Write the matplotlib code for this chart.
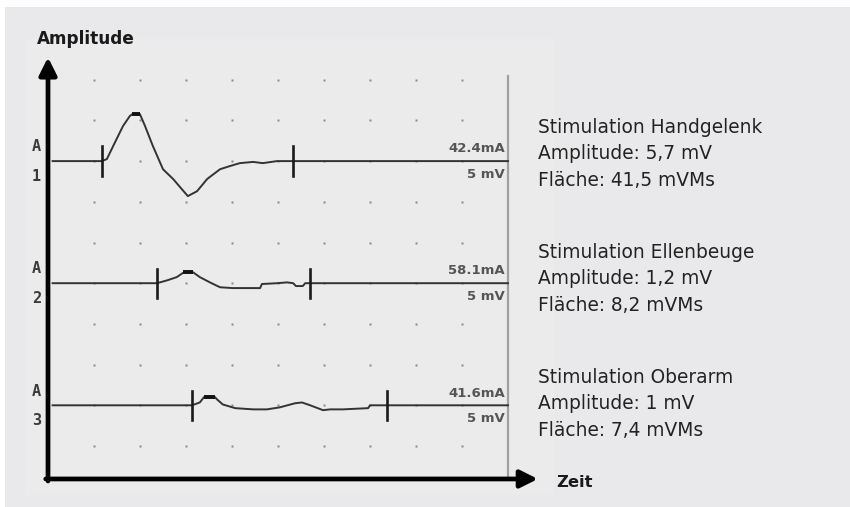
import matplotlib
matplotlib.use("Agg")
import matplotlib.pyplot as plt
import numpy as np
from matplotlib.patches import Rectangle

# scope traces, time and amplitude in screen divisions (amplitude relative to baseline)
t1 = [0.1, 1.17, 1.28, 1.46, 1.63, 1.78, 1.83, 2.0, 2.11, 2.28, 2.5, 2.72, 2.91, 3.04,
      3.24, 3.46, 3.74, 3.96, 4.17, 4.46, 4.67, 4.98, 5.33, 10.0]
a1 = [0, 0, 0.05, 0.47, 0.86, 1.11, 1.15, 1.15, 0.86, 0.37, -0.2, -0.44, -0.69, -0.86,
      -0.74, -0.44, -0.2, -0.12, -0.05, -0.02, -0.05, 0, 0, 0]

t2 = [0.1, 2.37, 2.59, 2.8, 2.93, 3.15, 3.3, 3.52, 3.74, 4.02, 4.61, 4.65, 4.98, 5.2,
      5.33, 5.39, 5.54, 5.59, 5.7, 10.0]
a2 = [0, 0, 0.07, 0.15, 0.25, 0.27, 0.15, 0.02, -0.1, -0.12, -0.12, -0.02, 0, 0.02,
      0, -0.07, -0.07, 0, 0, 0]

t3 = [0.1, 3.13, 3.3, 3.39, 3.63, 3.67, 3.8, 4.07, 4.46, 4.76, 5.04, 5.37, 5.52, 5.7,
      5.98, 6.13, 6.41, 6.96, 7.0, 7.37, 10.0]
a3 = [0, 0, 0.07, 0.2, 0.2, 0.15, 0.02, -0.07, -0.1, -0.1, -0.05, 0.05, 0.07, 0,
      -0.12, -0.1, -0.1, -0.07, 0, 0, 0]

traces = [(t1, a1), (t2, a2), (t3, a3)]
baselines = [7, 4, 1]
onset_marks = [1.17, 2.37, 3.13]
end_marks = [5.33, 5.7, 7.37]
peak_spans = [(1.83, 2.0), (2.93, 3.15), (3.39, 3.63)]
peak_amps = [1.15, 0.27, 0.2]
channel_ids = ["1", "2", "3"]
stim_labels = ["42.4mA", "58.1mA", "41.6mA"]
gain_labels = ["5 mV", "5 mV", "5 mV"]

grid_cols = np.arange(1, 10)
grid_rows = np.arange(0, 10)

info_blocks = [
    ["Stimulation Handgelenk", "Amplitude: 5,7 mV", "Fläche: 41,5 mVMs"],
    ["Stimulation Ellenbeuge", "Amplitude: 1,2 mV", "Fläche: 8,2 mVMs"],
    ["Stimulation Oberarm", "Amplitude: 1 mV", "Fläche: 7,4 mVMs"],
]

W, H = 850, 507
fig = plt.figure(figsize=(W / 100, H / 100), dpi=100, facecolor="white")
bg = Rectangle((5 / W, 0), 1, 1 - 7 / H, transform=fig.transFigure,
               facecolor="#e9e9eb", edgecolor="none", zorder=-10)
fig.patches.append(bg)

# scope screen: 1 div = 46 px horizontally, 40.7 px vertically
x0, x1 = -0.5, 11.0
y0, y1 = -1.2, 10.0
left_px, right_px = 48 + 46 * x0, 48 + 46 * x1
bot_px, top_px = 446 - 40.7 * y0, 446 - 40.7 * y1
ax = fig.add_axes([left_px / W, 1 - bot_px / H, (right_px - left_px) / W, (bot_px - top_px) / H],
                  zorder=1)
ax.set_xlim(x0, x1)
ax.set_ylim(y0, y1)
ax.set_facecolor("#ebebec")
for s in ax.spines.values():
    s.set_visible(False)
ax.set_xticks([])
ax.set_yticks([])

gx, gy = np.meshgrid(grid_cols, grid_rows)
ax.plot(gx.ravel(), gy.ravel(), "s", ms=2.0, color="#8a8a8a", mec="none")

x_axis_y = -0.81
ax.plot([10, 10], [x_axis_y, 9.1], color="#a0a0a0", lw=1.6)

for (t, a), base, on, off, (p0, p1), pa, cid, sl, gl in zip(
        traces, baselines, onset_marks, end_marks, peak_spans, peak_amps,
        channel_ids, stim_labels, gain_labels):
    ax.plot(t, np.array(a) + base, color="#333333", lw=1.4, solid_joinstyle="round")
    for m in (on, off):
        ax.plot([m, m], [base - 0.36, base + 0.36], color="#1a1a1a", lw=1.9)
    ax.plot([p0, p1], [base + pa, base + pa], color="#111111", lw=2.8, solid_capstyle="butt")
    ax.text(9.93, base + 0.3, sl, ha="right", va="center", fontsize=9.5,
            weight="bold", color="#555555")
    ax.text(9.93, base - 0.32, gl, ha="right", va="center", fontsize=9.5,
            weight="bold", color="#555555")
    ax.text(-0.25, base + 0.35, "A", ha="center", va="center", fontsize=11,
            family="DejaVu Sans Mono", weight="bold", color="#3a3a3a")
    ax.text(-0.25, base - 0.37, cid, ha="center", va="center", fontsize=11,
            family="DejaVu Sans Mono", weight="bold", color="#3a3a3a")

# axes arrows
arrow = dict(arrowstyle="-|>,head_length=0.7,head_width=0.35", lw=3.4, color="black",
             shrinkA=0, shrinkB=0, mutation_scale=15)
ax.annotate("", xy=(0, 9.55), xytext=(0, x_axis_y - 0.05), arrowprops=arrow)
ax.annotate("", xy=(10.65, x_axis_y), xytext=(-0.05, x_axis_y), arrowprops=arrow)

fig.text(37 / W, 1 - 44 / H, "Amplitude", fontsize=12.2, weight="bold", color="#1a1a1a",
         va="baseline", ha="left")
fig.text(556 / W, 1 - 487 / H, "Zeit", fontsize=11.8, weight="bold", color="#1a1a1a",
         va="baseline", ha="left")

block_tops = [133, 258, 383]
for top, lines in zip(block_tops, info_blocks):
    for i, line in enumerate(lines):
        fig.text(538 / W, 1 - (top + 26.3 * i) / H, line, fontsize=13.4, color="#222222",
                 va="baseline", ha="left")

fig.savefig("out.png", dpi=100, facecolor=fig.get_facecolor())
